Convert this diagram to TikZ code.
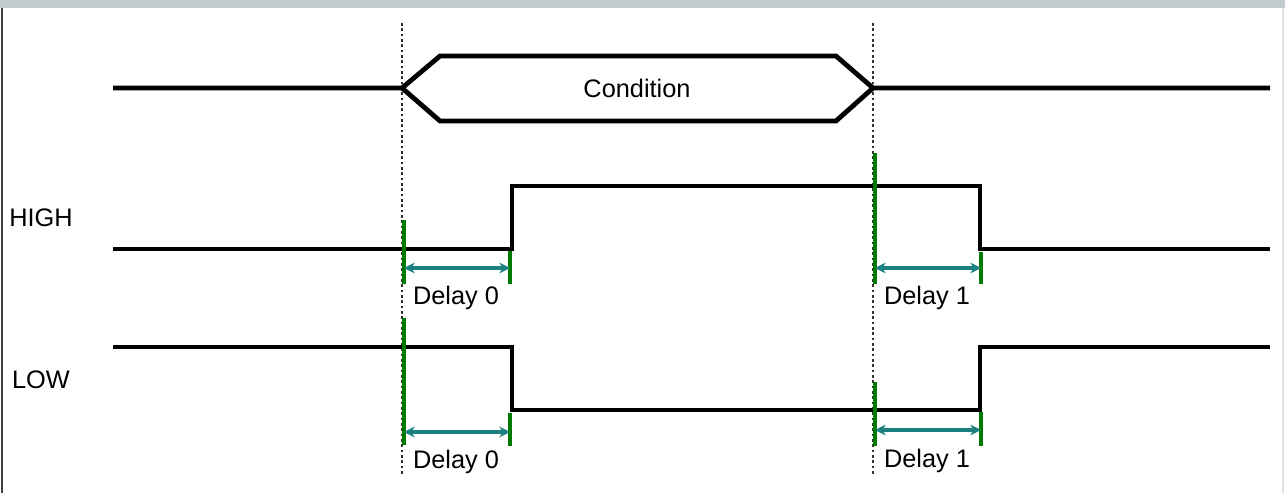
\documentclass[tikz,border=0pt]{standalone}
\usepackage{fontspec}
\setmainfont{Liberation Sans}
\usepackage{tikz}
\usetikzlibrary{arrows.meta, positioning, calc}
\definecolor{framegray}{RGB}{196,203,207}
\definecolor{markgreen}{RGB}{0,122,0}
\definecolor{delayteal}{RGB}{26,128,128}

\begin{document}
\begin{tikzpicture}[x=0.75pt, y=-0.75pt, >=Stealth,
    signal/.style={line width=3.6pt, line join=miter},
    guide/.style={line width=1.5pt, dash pattern=on 2pt off 2pt, black!80},
    edgemark/.style={line width=3.4pt, markgreen},
    delayarrow/.style={<->, line width=2.4pt, delayteal, >={Stealth[length=8pt, width=8pt]}},
    sigtext/.style={font=\fontsize{19}{22}\selectfont, inner sep=0pt}]
    \useasboundingbox (0,0) rectangle (1285,493);
    % frame
    \fill[framegray] (0,0) rectangle (1285,8);
    \draw[black!75, line width=1pt] (2,8) -- (2,493);
    \draw[framegray!60, line width=1pt] (1283,8) -- (1283,493);

    % guides at the condition edges
    \draw[guide] (402,23) -- (402,476);
    \draw[guide] (873,23) -- (873,476);

    % condition bus
    \draw[signal] (113,88) -- (402,88) -- (440,56) -- (836,56) -- (873,88) -- (1270,88);
    \draw[signal] (402,88) -- (440,121) -- (836,121) -- (873,88);
    \node[sigtext] (cond) at (637,88) {Condition};

    % outputs
    \node[sigtext] (high) at (41,218) {HIGH};
    \draw[signal] (113,249) -- (512,249) -- (512,186) -- (980,186) -- (980,249) -- (1270,249);
    \node[sigtext] (low) at (41,380) {LOW};
    \draw[signal] (113,347) -- (512,347) -- (512,410) -- (980,410) -- (980,347) -- (1270,347);

    % delay marks
    \draw[edgemark] (404,220) -- (404,284);
    \draw[edgemark] (510,251) -- (510,284);
    \draw[edgemark] (875,153) -- (875,284);
    \draw[edgemark] (981,252) -- (981,284);
    \draw[edgemark] (404,318) -- (404,445);
    \draw[edgemark] (510,413) -- (510,446);
    \draw[edgemark] (875,382) -- (875,446);
    \draw[edgemark] (981,412) -- (981,446);

    \coordinate (h0s) at (404,268);
    \coordinate (h0e) at (510,268);
    \coordinate (h1s) at (875,268);
    \coordinate (h1e) at (981,268);
    \coordinate (l0s) at (404,432);
    \coordinate (l0e) at (510,432);
    \coordinate (l1s) at (875,430);
    \coordinate (l1e) at (981,430);
    \draw[delayarrow] (h0s) -- (h0e);
    \draw[delayarrow] (h1s) -- (h1e);
    \draw[delayarrow] (l0s) -- (l0e);
    \draw[delayarrow] (l1s) -- (l1e);

    \node[sigtext] (hd0) at (456,298) {Delay 0};
    \node[sigtext] (hd1) at (927,298) {Delay 1};
    \node[sigtext] (ld0) at (456,462) {Delay 0};
    \node[sigtext] (ld1) at (927,461) {Delay 1};
\end{tikzpicture}
\end{document}
